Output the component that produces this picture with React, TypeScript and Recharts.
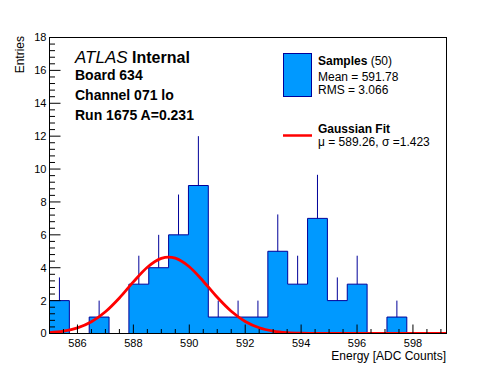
import React from 'react';
import { ComposedChart, Area, Line, Scatter, ErrorBar, XAxis, YAxis } from 'recharts';

// Histogram bin edges (20 bins) and contents
const binEdges = [
  585.0, 585.71, 586.42, 587.13, 587.84, 588.55, 589.26, 589.97, 590.68, 591.39,
  592.1, 592.81, 593.52, 594.23, 594.94, 595.65, 596.36, 597.07, 597.78, 598.49, 599.2,
];
const binCounts = [2, 0, 1, 0, 3, 4, 6, 9, 1, 1, 1, 5, 3, 7, 2, 3, 0, 1, 0, 0];
const binErrors = [1.41, 0, 1, 0, 1.73, 2, 2.45, 3, 1, 1, 1, 2.24, 1.73, 2.65, 1.41, 1.73, 0, 1, 0, 0];

// Gaussian fit curve
const fitX = [
  585.0, 585.5, 586.0, 586.5, 587.0, 587.5, 588.0, 588.5, 589.0, 589.26, 589.5, 590.0,
  590.5, 591.0, 591.5, 592.0, 592.5, 593.0, 593.5, 594.0, 594.5, 595.0, 596.0, 597.0,
  598.0, 599.2,
];
const fitY = [
  0.05, 0.14, 0.34, 0.71, 1.32, 2.16, 3.14, 4.03, 4.57, 4.65, 4.58, 4.06,
  3.18, 2.2, 1.35, 0.73, 0.35, 0.15, 0.055, 0.018, 0.005, 0, 0, 0,
  0, 0,
];

// Axis ticks
const xMajorTicks = [586, 588, 590, 592, 594, 596, 598];
const xMinorTicks = [
  585.5, 586.5, 587, 587.5, 588.5, 589, 589.5, 590.5, 591, 591.5, 592.5, 593, 593.5,
  594.5, 595, 595.5, 596.5, 597, 597.5, 598.5, 599,
];
const yMajorTicks = [0, 2, 4, 6, 8, 10, 12, 14, 16, 18];

const FONT = '"Liberation Sans", Arial, Helvetica, sans-serif';
const FILL = '#0099ff';
const EDGE = '#000099';

const histData = binEdges.map((x, i) => ({ x, n: binCounts[Math.min(i, binCounts.length - 1)] }));
const errData = binCounts
  .map((n, i) => ({ x: (binEdges[i] + binEdges[i + 1]) / 2, n, err: [0, binErrors[i]] }))
  .filter((d) => d.n > 0);
const fitData = fitX.map((x, i) => ({ x, f: fitY[i] }));

const xTicks = [...xMajorTicks, ...xMinorTicks].sort((a, b) => a - b);
const yTicks: number[] = [];
for (let k = 0; k <= 45; k++) yTicks.push(Math.round(k * 0.4 * 10) / 10);

const isMajor = (list: number[], v: number) => list.some((m) => Math.abs(m - v) < 1e-6);

const PLOT_BOTTOM = 333.5;
const PLOT_LEFT = 49.5;

const renderXTick = (props: any) => {
  const { x, payload } = props;
  const y = PLOT_BOTTOM;
  const v = payload.value;
  const major = isMajor(xMajorTicks, v);
  return (
    <g key={`xt-${v}`}>
      <line x1={x} x2={x} y1={y} y2={y - (major ? 9 : 4.5)} stroke="#000" strokeWidth={1} />
      {major && (
        <text x={x} y={y + 13} textAnchor="middle" fontSize={11} fontFamily={FONT} fill="#000">
          {v}
        </text>
      )}
    </g>
  );
};

const renderYTick = (props: any) => {
  const { y, payload } = props;
  const x = PLOT_LEFT;
  const v = payload.value;
  const major = isMajor(yMajorTicks, v);
  return (
    <g key={`yt-${v}`}>
      <line x1={x} x2={x + (major ? 11 : 5.5)} y1={y} y2={y} stroke="#000" strokeWidth={1} />
      {major && (
        <text x={x - 3} y={y} dy="0.36em" textAnchor="end" fontSize={11} fontFamily={FONT} fill="#000">
          {v}
        </text>
      )}
    </g>
  );
};

export default function App() {
  return (
    <div style={{ position: 'absolute', left: 0, top: 0, width: 496, height: 372, background: '#fff' }}>
      <ComposedChart
        width={496}
        height={372}
        margin={{ top: 37.5, right: 49.5, bottom: 18.5, left: 19.5 }}
      >
        <Area
          data={histData}
          dataKey="n"
          type="stepAfter"
          fill={FILL}
          fillOpacity={1}
          stroke={EDGE}
          strokeWidth={1}
          isAnimationActive={false}
          dot={false}
          activeDot={false}
        />
        <Scatter data={errData} dataKey="n" shape={() => <g />} isAnimationActive={false}>
          <ErrorBar dataKey="err" direction="y" width={0} stroke={EDGE} strokeWidth={1} isAnimationActive={false} />
        </Scatter>
        <Line
          data={fitData}
          dataKey="f"
          type="monotone"
          stroke="#ff0000"
          strokeWidth={2.8}
          dot={false}
          activeDot={false}
          isAnimationActive={false}
        />
        <XAxis
          dataKey="x"
          type="number"
          domain={[585, 599.2]}
          allowDataOverflow
          ticks={xTicks}
          interval={0}
          height={20}
          tickSize={0}
          tickMargin={0}
          tickLine={false}
          axisLine={false}
          tick={renderXTick}
        />
        <YAxis
          type="number"
          domain={[0, 18]}
          allowDataOverflow
          ticks={yTicks}
          interval={0}
          width={30}
          tickSize={0}
          tickMargin={0}
          tickLine={false}
          axisLine={false}
          tick={renderYTick}
        />
      </ComposedChart>
      <svg
        width={496}
        height={372}
        style={{ position: 'absolute', left: 0, top: 0, pointerEvents: 'none' }}
        fontFamily={FONT}
      >
        <rect x={49.5} y={37.5} width={397} height={296} fill="none" stroke="#000" strokeWidth={1} />
        <text x={75} y={63} fill="#000">
          <tspan fontStyle="italic" fontSize={17}>ATLAS</tspan>
          <tspan fontWeight="bold" fontSize={16}> Internal</tspan>
        </text>
        <text x={75} y={80} fontSize={14} fontWeight="bold">Board 634</text>
        <text x={75} y={100} fontSize={14} fontWeight="bold">Channel 071 lo</text>
        <text x={75} y={120} fontSize={14} fontWeight="bold">Run 1675 A=0.231</text>

        <rect x={283.5} y={53.5} width={28} height={43} fill={FILL} stroke={EDGE} strokeWidth={1} />
        <text x={318} y={65} fontSize={12}>
          <tspan fontWeight="bold">Samples</tspan>
          <tspan> (50)</tspan>
        </text>
        <text x={318} y={81} fontSize={12}>Mean = 591.78</text>
        <text x={318} y={93.5} fontSize={12}>RMS = 3.066</text>
        <line x1={283} x2={312} y1={135.5} y2={135.5} stroke="#ff0000" strokeWidth={2.5} />
        <text x={318} y={133} fontSize={12} fontWeight="bold">Gaussian Fit</text>
        <text x={318} y={145.5} fontSize={12}>μ = 589.26, σ =1.423</text>

        <text x={446} y={360} fontSize={12} textAnchor="end">Energy [ADC Counts]</text>
        <text x={24} y={36} fontSize={12} textAnchor="end" transform="rotate(-90 24 36)">Entries</text>
      </svg>
    </div>
  );
}
